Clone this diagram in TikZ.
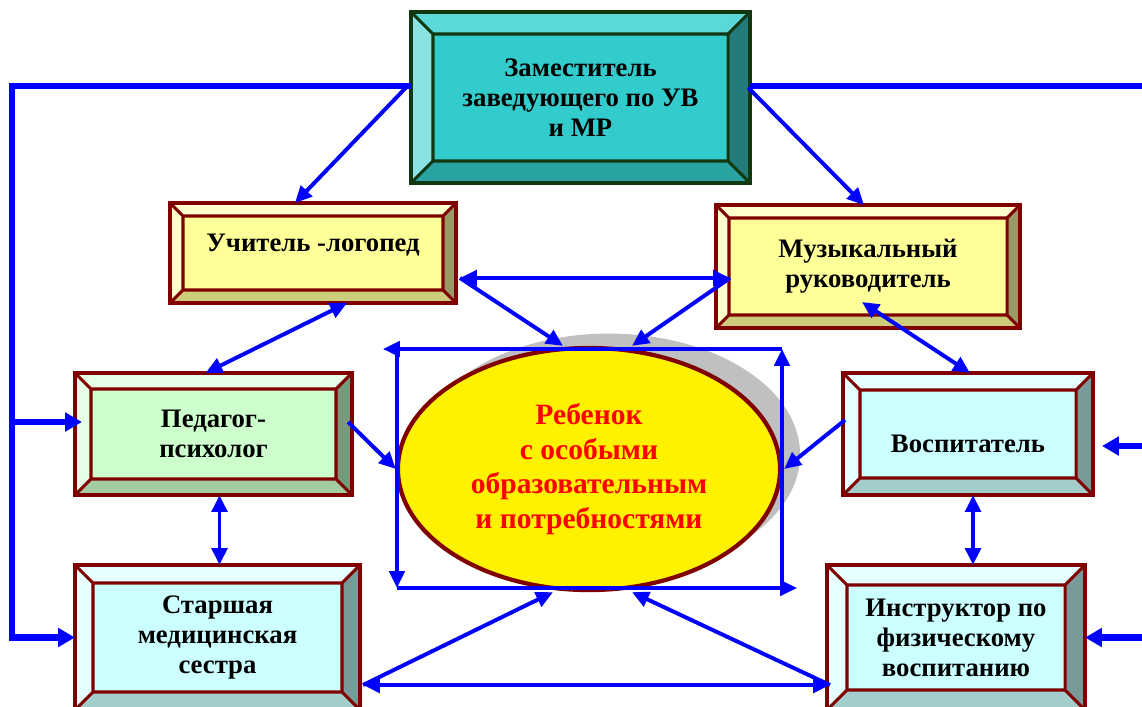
\documentclass[tikz,border=0pt]{standalone}
\usepackage{fontspec}
\setmainfont{Liberation Serif}
\usetikzlibrary{arrows.meta,shapes.geometric,shadows}

\definecolor{darkred}{HTML}{800000}
\definecolor{darkgrn}{HTML}{123812}
\definecolor{shadowgray}{HTML}{C0C0C0}
% bevel colours: face, top, left, right, bottom
\definecolor{zamFace}{HTML}{33CCCC}
\definecolor{zamTop}{HTML}{5BD8D8}
\definecolor{zamLeft}{HTML}{8AE2E2}
\definecolor{zamRight}{HTML}{237B7B}
\definecolor{zamBot}{HTML}{2AA3A3}
\definecolor{yelFace}{HTML}{FFFF99}
\definecolor{yelTop}{HTML}{FFFFCC}
\definecolor{yelLeft}{HTML}{FFFFCC}
\definecolor{yelRight}{HTML}{999966}
\definecolor{yelBot}{HTML}{CCCC7A}
\definecolor{grnFace}{HTML}{CCFFCC}
\definecolor{grnTop}{HTML}{E6FFE6}
\definecolor{grnLeft}{HTML}{E6FFE6}
\definecolor{grnRight}{HTML}{7A997A}
\definecolor{grnBot}{HTML}{A3CCA3}
\definecolor{cyaFace}{HTML}{CCFFFF}
\definecolor{cyaTop}{HTML}{E6FFFF}
\definecolor{cyaLeft}{HTML}{E6FFFF}
\definecolor{cyaRight}{HTML}{7A9999}
\definecolor{cyaBot}{HTML}{A3CCCC}

% bevel frame round a box node: node, depth (px), colour prefix, border colour
\newcommand{\bevel}[4]{%
  \fill[#3Top] (#1.north west) -- (#1.north east) -- ([shift={(-#2,#2)}]#1.north east) -- ([shift={(#2,#2)}]#1.north west) -- cycle;
  \fill[#3Left] (#1.north west) -- ([shift={(#2,#2)}]#1.north west) -- ([shift={(#2,-#2)}]#1.south west) -- (#1.south west) -- cycle;
  \fill[#3Right] (#1.north east) -- (#1.south east) -- ([shift={(-#2,-#2)}]#1.south east) -- ([shift={(-#2,#2)}]#1.north east) -- cycle;
  \fill[#3Bot] (#1.south west) -- ([shift={(#2,-#2)}]#1.south west) -- ([shift={(-#2,-#2)}]#1.south east) -- (#1.south east) -- cycle;
  \draw[#4, line width=2.2pt] ([shift={(#2,#2)}]#1.north west) rectangle ([shift={(-#2,-#2)}]#1.south east)
    (#1.north west) -- ++(#2,#2) (#1.north east) -- ++(-#2,#2)
    (#1.south west) -- ++(#2,-#2) (#1.south east) -- ++(-#2,-#2);
  \draw[#4, line width=2.8pt] (#1.north west) rectangle (#1.south east);
}

\tikzset{
  box/.style={rectangle, inner sep=0pt, outer sep=0pt, align=center,
    font=\bfseries\fontsize{19}{21.3}\selectfont},
  kid/.style={ellipse, inner sep=0pt, align=center, fill=yellow, draw=darkred,
    line width=3pt, text=red, font=\bfseries\fontsize{21}{24.8}\selectfont,
    general shadow={fill=shadowgray, shadow xshift=0.5cm, shadow yshift=0.36cm}},
  link/.style={blue, line width=2.8pt, >={Triangle[length=12pt,width=11pt]}},
  bus/.style={blue, line width=4.6pt, >={Triangle[length=12pt,width=13pt]}},
}

\begin{document}
\begin{tikzpicture}[x=0.025cm,y=-0.025cm]
\useasboundingbox (0,0) rectangle (1142,706);

% boxes
\node[box, fill=zamFace, minimum width=8.475cm, minimum height=4.275cm] (zam) at (580.5,97.5)
  {Заместитель\\заведующего по УВ\\и МР};
\bevel{zam}{22}{zam}{darkgrn}
\node[box, fill=yelFace, minimum width=7.15cm, minimum height=2.5cm, text depth=15pt] (uch) at (313,253)
  {Учитель -логопед};
\bevel{uch}{13}{yel}{darkred}
\node[box, fill=yelFace, minimum width=7.6cm, minimum height=3.075cm] (muz) at (868,266.5)
  {Музыкальный\\руководитель};
\bevel{muz}{13}{yel}{darkred}
\node[box, fill=grnFace, minimum width=6.925cm, minimum height=3.05cm] (ped) at (213.5,434)
  {Педагог-\\психолог};
\bevel{ped}{16}{grn}{darkred}
\node[box, fill=cyaFace, minimum width=6.25cm, minimum height=3.05cm, text height=27pt] (vos) at (968,434)
  {Воспитатель};
\bevel{vos}{17}{cya}{darkred}
\node[box, fill=cyaFace, minimum width=7.125cm, minimum height=3.625cm] (sta) at (217.5,637.5)
  {Старшая\\медицинская\\сестра};
\bevel{sta}{18}{cya}{darkred}
\node[box, fill=cyaFace, minimum width=6.45cm, minimum height=3.625cm] (ins) at (956,637.5)
  {Инструктор по\\физическому\\воспитанию};
\bevel{ins}{20}{cya}{darkred}

% child
\node[kid, minimum width=9.55cm, minimum height=6.05cm] (kid) at (589,469)
  {Ребенок\\с особыми\\образовательным\\и потребностями};

% frame round the child
\coordinate (fnw) at (397,349);
\coordinate (fne) at (782,349);
\coordinate (fsw) at (397,588);
\coordinate (fse) at (782,588);
\draw[link, line width=2.4pt, ->] (fne) -- ([shift={(-14,0)}]fnw);
\draw[link, line width=2.4pt, ->] (fnw) -- (fsw);
\draw[link, line width=2.4pt, ->] (fsw) -- ([shift={(15,0)}]fse);
\draw[link, line width=2.4pt, ->] (fse) -- (fne);

% buses
\coordinate (busR) at (1150,86);
\coordinate (inV) at (1150,446);
\coordinate (inI) at (1150,637.5);
\draw[bus, ->] ([shift={(0,-11.5)}]zam.west) -| ([shift={(-63,0)}]sta.west) -- (sta.west);
\draw[bus, ->] ([shift={(-63,-12)}]ped.west) -- ([shift={(7,-12)}]ped.west);
\draw[bus] ([shift={(0,-11.5)}]zam.east) -- (busR);
\draw[bus, ->] (inV) -- ([shift={(9,12)}]vos.east);
\draw[bus, ->] (inI) -- (ins.east);

% links
\coordinate (uchR) at ([shift={(4,25)}]uch.east);
\coordinate (muzL) at ([shift={(14,11.5)}]muz.west);
\coordinate (staR) at ([shift={(3,47.5)}]sta.east);
\coordinate (insL) at ([shift={(3,47.5)}]ins.west);
\draw[link, ->] ([shift={(-3,-12)}]zam.west) -- ([shift={(-18,0)}]uch.north);
\draw[link, ->] ([shift={(-2,-10)}]zam.east) -- ([shift={(-4,0)}]muz.north);
\draw[link, <->] ([shift={(34,0)}]uch.south) -- ([shift={(-8,0)}]ped.north);
\draw[link, <->] ([shift={(6,0)}]ped.south) -- ([shift={(6,0)}]ped.south |- sta.north);
\draw[link, <->] ([shift={(5,0)}]vos.south) -- ([shift={(5,0)}]vos.south |- ins.north);
\draw[link, <->] ([shift={(-6,-26)}]muz.south) -- ([shift={(2,0)}]vos.north);
\draw[link, <->] (uchR) -- (muzL);
\draw[link, ->] (uchR) -- ([shift={(-26,0)}]kid.north);
\draw[link, ->] (muzL) -- ([shift={(43,0)}]kid.north);
\draw[link, ->] ([shift={(-4,-12)}]ped.east) -- (kid.west);
\draw[link, ->] ([shift={(2,-14)}]vos.west) -- ([shift={(2,0)}]kid.east);
\draw[link, <->] (staR) -- (insL);
\draw[link, ->] (staR) -- ([shift={(-36,0)}]kid.south);
\draw[link, ->] (insL) -- ([shift={(43,0)}]kid.south);
\end{tikzpicture}
\end{document}
